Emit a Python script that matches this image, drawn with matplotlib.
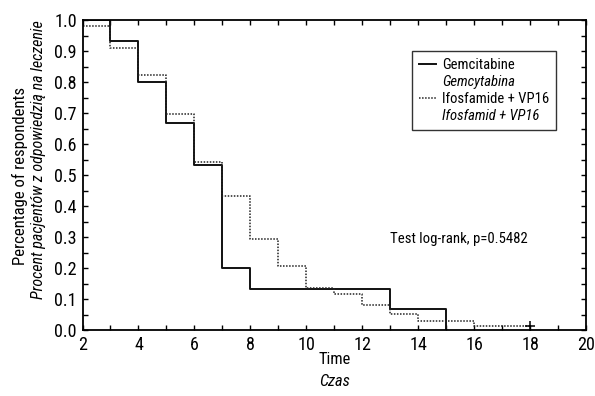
import matplotlib
matplotlib.use("Agg")
import matplotlib.pyplot as plt
from matplotlib.lines import Line2D
from matplotlib.ticker import MultipleLocator
import matplotlib.font_manager as fm

# Data
gem_times = [2, 3, 4, 5, 6, 7, 8, 13, 15]
gem_surv = [1.0, 0.933, 0.80, 0.667, 0.533, 0.20, 0.133, 0.067, 0.0]
ifo_times = [2, 3, 4, 5, 6, 7, 8, 9, 10, 11, 12, 13, 14, 16, 18]
ifo_surv = [0.98, 0.911, 0.823, 0.698, 0.543, 0.433, 0.294, 0.207, 0.137,
            0.117, 0.081, 0.051, 0.029, 0.014, 0.014]
censor_t = [18]
censor_s = [0.014]
series_labels = ["Gemcitabine", "Gemcytabina", "Ifosfamide + VP16", "Ifosfamid + VP16"]
test_text = "Test log-rank, p=0.5482"

# ---- font selection: prefer a condensed family ----
cands = []
for f in fm.fontManager.ttflist:
    p = f.fname.lower()
    if ('condensed' in p or 'narrow' in p) and 'bold' not in p and 'light' not in p:
        cands.append(f)

def pick(italic):
    pref = ['robotocondensed', 'liberationsansnarrow', 'dejavusanscondensed',
            'condensed', 'narrow']
    for key in pref:
        for f in cands:
            base = f.fname.lower().replace('-', '').replace('_', '')
            isit = ('italic' in base or 'oblique' in base)
            if key in base and isit == italic and all(
                    w not in base for w in ('semi', 'extra', 'medium', 'black', 'thin')):
                return f.fname
    return None

reg_file = pick(False)
it_file = pick(True)
if reg_file:
    FP = lambda s: fm.FontProperties(fname=reg_file, size=s)
    if it_file:
        FPI = lambda s: fm.FontProperties(fname=it_file, size=s)
    else:
        FPI = lambda s: fm.FontProperties(fname=reg_file, size=s, style='italic')
else:
    FP = lambda s: fm.FontProperties(family='DejaVu Sans', size=s)
    FPI = lambda s: fm.FontProperties(family='DejaVu Sans', size=s, style='italic')

W, H = 595, 396
fig = plt.figure(figsize=(W/100, H/100), dpi=100)
renderer = fig.canvas.get_renderer()

def fit_size(text, target_px, italic=False, start=12.0):
    t = fig.text(0, 0, text, fontproperties=(FPI if italic else FP)(start))
    w = t.get_window_extent(renderer).width
    t.remove()
    return start * target_px / w

ax = fig.add_axes([82.5/W, 1 - 330/H, (586-82.5)/W, (330-20)/H])

ax.step(gem_times, gem_surv, where='post', color='#111111', lw=1.4)
ax.step(ifo_times, ifo_surv, where='post', color='#222222', lw=1.1, ls=(0, (1, 1)))
ax.plot(censor_t, censor_s, marker='+', color='black', ms=7, ls='none', mew=1.1)

ax.set_xlim(2, 20)
ax.set_ylim(0, 1.0)
ax.xaxis.set_major_locator(MultipleLocator(2))
ax.xaxis.set_minor_locator(MultipleLocator(1))
ax.yaxis.set_major_locator(MultipleLocator(0.1))
ax.yaxis.set_minor_locator(MultipleLocator(0.05))
ax.yaxis.set_major_formatter(plt.FuncFormatter(lambda v, p: f"{v:.1f}"))
ax.tick_params(which='both', direction='in', top=True, right=True, length=3.5,
               width=1.0)
ax.tick_params(axis='x', pad=4)
ax.tick_params(axis='y', pad=4)
tick_size = fit_size("0.0", 22.5)
for lab in ax.get_xticklabels() + ax.get_yticklabels():
    lab.set_fontproperties(FP(tick_size))
for s in ax.spines.values():
    s.set_linewidth(1.3)

# legend
leg_size = fit_size(series_labels[2], 107)
F = leg_size * 100 / 72  # px
handles = [Line2D([], [], color='#111111', lw=1.4),
           Line2D([], [], color='none'),
           Line2D([], [], color='#222222', lw=1.1, ls=(0, (1, 1))),
           Line2D([], [], color='none')]
leg = ax.legend(handles, series_labels, loc='upper left',
                bbox_to_anchor=(412/W, 1 - 51/H), bbox_transform=fig.transFigure,
                borderaxespad=0, frameon=True, fancybox=False, edgecolor='black',
                prop=FP(leg_size), handlelength=17/F, handletextpad=6/F,
                labelspacing=0.2, borderpad=7/F)
leg.get_frame().set_linewidth(1.0)
for i, t in enumerate(leg.get_texts()):
    t.set_fontproperties(FPI(leg_size) if i in (1, 3) else FP(leg_size))

ax.text(12.98, 0.295, test_text, fontproperties=FP(fit_size(test_text, 137)),
        va='center', ha='left')

ylab1 = "Percentage of respondents"
ylab2 = "Procent pacjentów z odpowiedzią na leczenie"
fig.text(20/W, 1 - 176/H, ylab1, rotation=90, ha='center', va='center',
         fontproperties=FP(fit_size(ylab1, 178)))
fig.text(39/W, 1 - 160/H, ylab2, rotation=90, ha='center', va='center',
         fontproperties=FPI(fit_size(ylab2, 278, italic=True)))
fig.text(335/W, 1 - 360/H, "Time", ha='center', va='center',
         fontproperties=FP(tick_size * 0.9))
fig.text(335/W, 1 - 381/H, "Czas", ha='center', va='center',
         fontproperties=FPI(tick_size * 0.9))

fig.savefig("out.png", dpi=100)
